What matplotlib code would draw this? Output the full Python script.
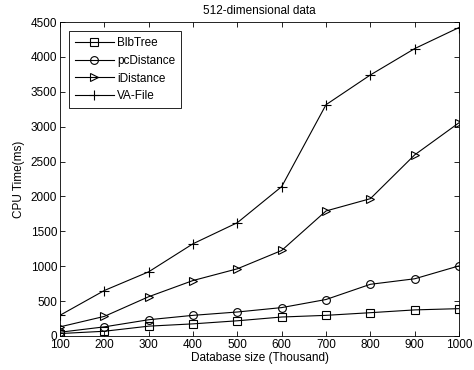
import matplotlib
matplotlib.use("Agg")
import matplotlib.pyplot as plt

plt.rcParams['font.family'] = ['Liberation Sans', 'DejaVu Sans']

# database size (thousand)
sizes = [100, 200, 300, 400, 500, 600, 700, 800, 900, 1000]

# CPU time (ms)
blbtree = [35, 68, 141, 174, 218, 272, 296, 334, 374, 392]
pcdistance = [54, 131, 233, 296, 344, 407, 523, 741, 820, 1005]
idistance = [131, 281, 563, 795, 963, 1226, 1792, 1968, 2596, 3056]
vafile = [297, 652, 920, 1322, 1624, 2141, 3315, 3741, 4119, 4421]

xticks = [100, 200, 300, 400, 500, 600, 700, 800, 900, 1000]
yticks = [0, 500, 1000, 1500, 2000, 2500, 3000, 3500, 4000, 4500]

fig = plt.figure(figsize=(4.74, 3.70), dpi=100)
ax = fig.add_axes([0.1266, 0.0919, 0.8418, 0.8486])

style = dict(color='black', linewidth=0.8, markerfacecolor='none',
             markeredgecolor='black', markeredgewidth=0.8)
ax.plot(sizes, blbtree, marker='s', markersize=5.2, label='BlbTree', **style)
ax.plot(sizes, pcdistance, marker='o', markersize=5.6, label='pcDistance', **style)
ax.plot(sizes, idistance, marker='>', markersize=6, label='iDistance', **style)
ax.plot(sizes, vafile, marker='+', markersize=7.5, label='VA-File', **style)

ax.set_xlim(100, 1000)
ax.set_ylim(0, 4500)
ax.set_xticks(xticks)
ax.set_yticks(yticks)
ax.tick_params(direction='in', top=True, right=True, labelsize=8.5, length=3.5,
               width=0.6, pad=2)
for s in ax.spines.values():
    s.set_linewidth(0.6)

ax.set_xlabel('Database size (Thousand)', fontsize=8.5, labelpad=1)
ax.set_ylabel('CPU Time(ms)', fontsize=8.5, labelpad=4)
ax.set_title('512-dimensional data', fontsize=8.5, pad=6)

leg = ax.legend(loc='upper left', fontsize=8.5, fancybox=False, framealpha=1,
                edgecolor='black', handlelength=3.3, borderaxespad=0.8,
                labelspacing=0.5, handletextpad=0.3, borderpad=0.45)
leg.get_frame().set_linewidth(0.6)

fig.savefig('out.png', dpi=100)
